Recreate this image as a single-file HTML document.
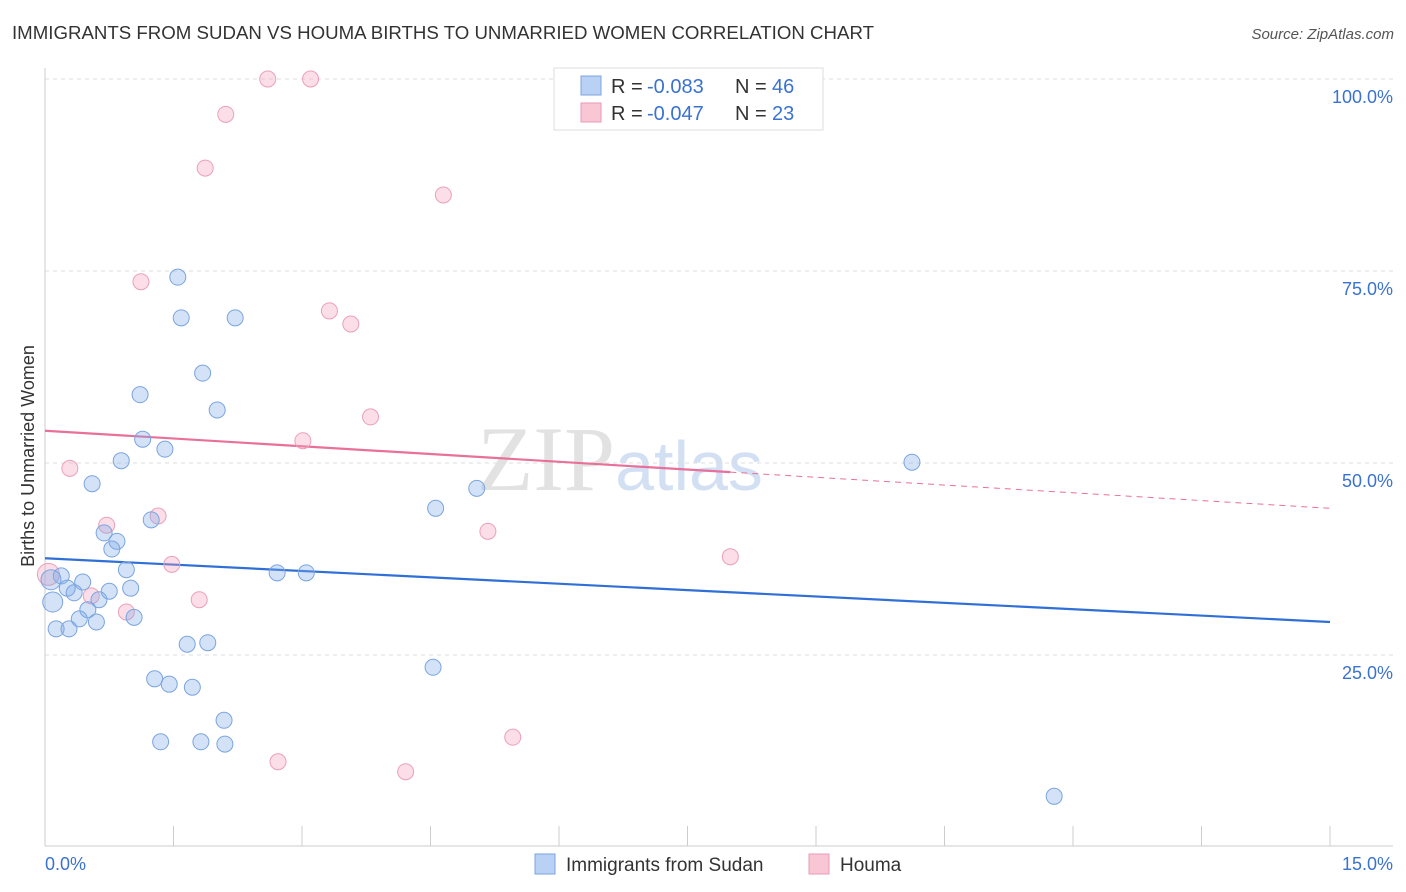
<!DOCTYPE html>
<html><head><meta charset="utf-8"><style>
body{margin:0;background:#fff;font-family:"Liberation Sans",sans-serif;}
svg{display:block}
</style></head><body>
<svg id="chart" width="1406" height="892" xmlns="http://www.w3.org/2000/svg">
<text x="12" y="39" font-size="18" fill="#333" textLength="862" lengthAdjust="spacingAndGlyphs">IMMIGRANTS FROM SUDAN VS HOUMA BIRTHS TO UNMARRIED WOMEN CORRELATION CHART</text>
<text x="1394" y="39" font-size="15" fill="#555" font-style="italic" text-anchor="end">Source: ZipAtlas.com</text>
<text x="620" y="490" font-size="92" fill="#e2e2e2" font-family="Liberation Serif,serif" text-anchor="middle">ZIP<tspan fill="#d3e0f3" font-family="Liberation Sans,sans-serif" font-size="70">atlas</tspan></text>
<text transform="translate(34,456) rotate(-90)" font-size="18" fill="#333" text-anchor="middle">Births to Unmarried Women</text>
<g id="grid"></g><g id="axes"></g><g id="trends"></g><g id="pts"></g>
<g>
<rect x="554" y="68" width="269" height="62" fill="#fff" stroke="#ddd"/>
<rect x="581" y="76" width="20" height="19" fill="#b8d1f5" stroke="#7aa5e0"/>
<rect x="581" y="103" width="20" height="19" fill="#f9c6d5" stroke="#eb9ab4"/>
<text x="611" y="93" font-size="20" fill="#333">R =</text>
<text x="647" y="93" font-size="20" fill="#3a72d0">-0.083</text>
<text x="735" y="93" font-size="20" fill="#333">N =</text>
<text x="772" y="93" font-size="20" fill="#3a72d0">46</text>
<text x="611" y="120" font-size="20" fill="#333">R =</text>
<text x="647" y="120" font-size="20" fill="#3a72d0">-0.047</text>
<text x="735" y="120" font-size="20" fill="#333">N =</text>
<text x="772" y="120" font-size="20" fill="#3a72d0">23</text>
</g>
<g>
<rect x="535" y="854" width="20" height="20" fill="#b8d1f5" stroke="#7aa5e0"/>
<text x="566" y="871" font-size="19" fill="#333">Immigrants from Sudan</text>
<rect x="809" y="854" width="20" height="20" fill="#f9c6d5" stroke="#eb9ab4"/>
<text x="840" y="871" font-size="19" fill="#333">Houma</text>
</g>
</svg>
<script>
const yTicks=[25,50,75,100];
const yTickLabels=["25.0%","50.0%","75.0%","100.0%"];
const xTickLabels=["0.0%","15.0%"];
const blueX=[1.55,1.59,2.22,1.84,1.11,2.01,1.14,1.40,0.89,0.55,1.24,0.69,0.84,0.78,0.95,0.19,0.44,0.26,0.07,1.00,0.75,0.34,0.09,0.63,0.50,0.40,1.04,0.60,0.13,0.28,1.66,1.90,1.28,1.45,1.72,2.09,1.35,1.82,2.10,2.71,3.05,4.56,5.04,4.53,10.12,11.78];
const blueY=[74.2,68.9,68.9,61.7,58.9,56.9,53.1,51.8,50.3,47.3,42.6,40.9,39.8,38.8,36.1,35.3,34.5,33.7,34.8,33.7,33.3,33.1,31.9,32.2,30.9,29.7,29.9,29.3,28.4,28.4,26.4,26.6,21.9,21.2,20.8,16.5,13.7,13.7,13.4,35.7,35.7,44.1,46.7,23.4,50.1,6.6];
const pinkX=[2.60,3.10,2.11,1.87,4.65,1.12,3.32,3.57,3.80,3.01,0.29,1.32,0.72,5.17,1.48,0.54,0.04,1.80,0.95,8.00,5.46,2.72,4.21];
const pinkY=[100,100,95.4,88.4,84.9,73.6,69.8,68.1,56.0,52.9,49.3,43.1,41.9,41.1,36.8,32.7,35.5,32.2,30.6,37.8,14.3,11.1,9.8];
const blueTrend=[37.6,29.3];
const pinkTrend=[54.2,44.1];
const pinkSolidEnd=8.0;
const NS="http://www.w3.org/2000/svg";
const X=v=>45+v/15*1285, Y=v=>847-v*7.68;
function mk(t,a,p){const e=document.createElementNS(NS,t);for(const k in a)e.setAttribute(k,a[k]);document.getElementById(p).appendChild(e);return e;}
yTicks.forEach((t,i)=>{
 const l=mk('line',{x1:45,x2:1393,y1:Y(t),y2:Y(t),stroke:'#ddd','stroke-dasharray':'4,4'},'grid');
 
 
 const tx=mk('text',{x:1393,y:Y(t)+24,'font-size':18,fill:'#3a72d0','text-anchor':'end'},'grid');
 tx.textContent=yTickLabels[i];
 
 
});
const ax=mk('line',{x1:45,x2:1393,y1:846,y2:846,stroke:'#ccc'},'axes');


const ay=mk('line',{x1:45,x2:45,y1:68,y2:846,stroke:'#ccc'},'axes');


for(let i=0;i<=10;i++){const t=mk('line',{x1:X(i*1.5),x2:X(i*1.5),y1:826,y2:846,stroke:'#ccc'},'axes');
 
 }
[[0,45,'start'],[15,1393,'end']].forEach((d,i)=>{const t=mk('text',{x:d[1],y:870,'font-size':18,fill:'#3a72d0','text-anchor':d[2]},'axes');t.textContent=xTickLabels[i];
 
 });
const bl=mk('line',{x1:X(0),x2:X(15),y1:Y(blueTrend[0]),y2:Y(blueTrend[1]),stroke:'#2f6fd6','stroke-width':2.2},'trends');


const py=x=>pinkTrend[0]+(pinkTrend[1]-pinkTrend[0])*x/15;
const ps=mk('line',{x1:X(0),x2:X(pinkSolidEnd),y1:Y(py(0)),y2:Y(py(pinkSolidEnd)),stroke:'#e8709a','stroke-width':2.2},'trends');


const pd=mk('line',{x1:X(pinkSolidEnd),x2:X(15),y1:Y(py(pinkSolidEnd)),y2:Y(py(15)),stroke:'#e8709a','stroke-width':1,'stroke-dasharray':'6,5'},'trends');


pinkX.forEach((x,i)=>{const c=mk('circle',{cx:X(x),cy:Y(pinkY[i]),r:i==16?11:8,fill:'rgba(244,160,188,0.35)',stroke:'#eba0b8','stroke-width':1},'pts');
 
 });
blueX.forEach((x,i)=>{const c=mk('circle',{cx:X(x),cy:Y(blueY[i]),r:i==18||i==22?10:8,fill:'rgba(130,172,232,0.35)',stroke:'#7aa5e0','stroke-width':1},'pts');
 
 });
</script>
</body></html>
